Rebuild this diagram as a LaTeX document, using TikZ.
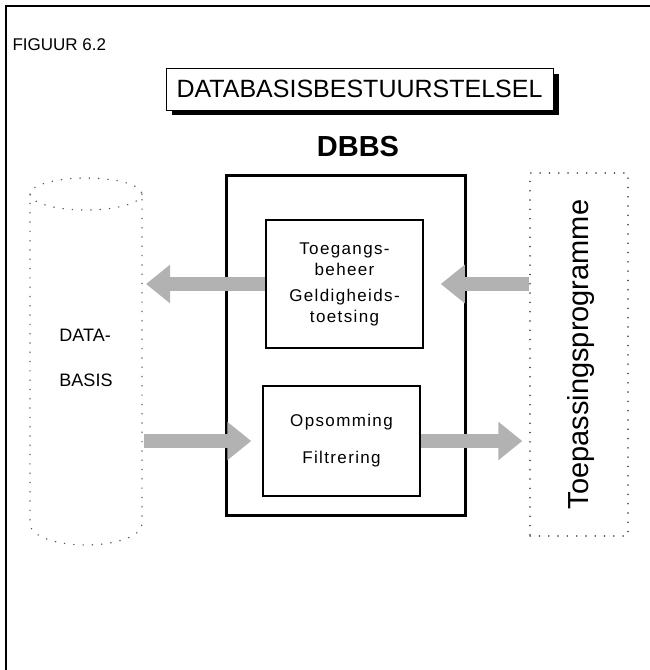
\documentclass[tikz,border=0pt]{standalone}
\usepackage{fontspec}
\setmainfont{Liberation Sans}
\setsansfont{Liberation Sans}
\newfontfamily\spacedfont[LetterSpace=8]{Liberation Sans}
\usetikzlibrary{arrows.meta}
\begin{document}
\begin{tikzpicture}[x=1pt,y=-1pt,
  dots/.style={line width=1.4pt, dash pattern=on 0.3pt off 9pt, line cap=round, draw=black!65},
  flow/.style={line width=14pt, draw=black!30, -{Triangle[length=24pt,width=37pt]}},
  frameline/.style={line width=1.6pt},
  inner/.style={draw, line width=1.5pt, align=center, font=\spacedfont\fontsize{17}{21}\selectfont}
]
\useasboundingbox (0,0) rectangle (650,670);
% page frame
\draw[frameline] (650,6) -- (6,6) -- (6,670);
\node[anchor=west, font=\fontsize{17}{20}\selectfont] (fig) at (9,45) {FIGUUR 6.2};
% title with shadow
\fill (553,74) rectangle (559,115);
\fill (172,110) rectangle (559,115);
\node[draw, fill=white, line width=0.8pt, minimum width=387, minimum height=42,
      font=\fontsize{25}{30}\selectfont] (title) at (359.5,89) {DATABASISBESTUURSTELSEL};
\node[font=\bfseries\fontsize{29}{34}\selectfont] (dbbs) at (358,147) {DBBS};
% DBBS box
\node[draw, line width=3pt, minimum width=239, minimum height=340] (sys) at (345.5,345) {};
\node[inner, minimum width=157, minimum height=128] (acc) at (344.5,284)
  {Toegangs-\\beheer\\[5pt]Geldigheids-\\toetsing};
\node[inner, minimum width=157, minimum height=110, font=\spacedfont\fontsize{17}{37}\selectfont] (filt) at (341.5,441)
  {Opsomming\\Filtrering};
% database cylinder
\draw[dots] (30,194) -- (30,524) arc[start angle=180, end angle=0, x radius=56, y radius=21] -- (142,194);
\draw[dots] (86,194) ellipse[x radius=56, y radius=16];
\node[align=left, font=\fontsize{18}{45}\selectfont] (db) at (86,358) {DATA-\\BASIS};
\coordinate (dbR1) at (146,284);
\coordinate (dbR2) at (144,441);
% application box
\node[dots, draw, minimum width=98, minimum height=363] (ap) at (579,354.5) {};
\node[rotate=90, font=\fontsize{29}{34}\selectfont] (aptext) at (581,354.5) {Toepassingsprogramme};
% flows
\draw[flow] (acc.west) -- (dbR1);
\draw[flow, shorten >=17pt] (acc.west -| ap.west) -- (acc.east);
\draw[flow, shorten >=11pt] (dbR2) -- (dbR2 -| filt.west);
\draw[flow, shorten >=7pt] (filt.east) -- (filt.east -| ap.west);
\end{tikzpicture}
\end{document}
